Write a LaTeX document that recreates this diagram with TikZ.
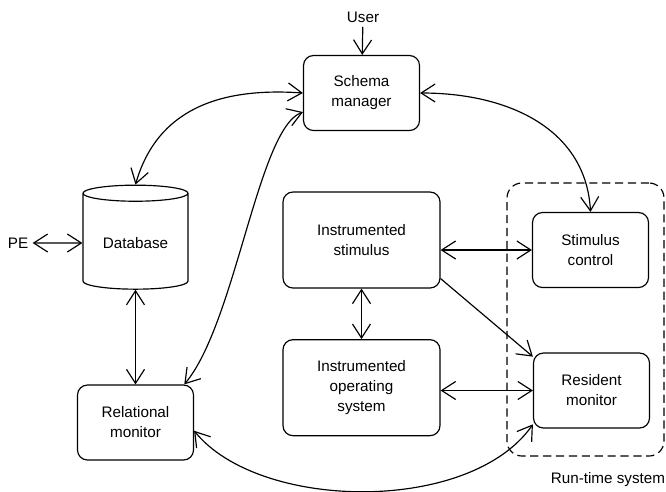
\documentclass[tikz,border=0pt]{standalone}
\usepackage{fontspec}
\setmainfont{Liberation Sans}
\usepackage{tikz}
\usetikzlibrary{arrows.meta,shapes.geometric}

\begin{document}
\begin{tikzpicture}[<->,>={Straight Barb[length=4.2mm,width=5.4mm]},line width=1pt,
        x=0.03cm,y=-0.03cm,font=\fontsize{13}{17}\selectfont,
        blk/.style={draw,rounded corners=0.3cm,align=center,minimum width=3.48cm,minimum height=2.25cm},
        big/.style={blk,minimum width=4.71cm,minimum height=2.88cm}]

  \useasboundingbox (0,0) rectangle (666,491);

  \node[blk] (schema) at (361.5,93) {Schema\\manager};
  \node (user) at (363,17) {User};
  \node[draw,cylinder,shape border rotate=90,aspect=0.22,
        minimum width=3.15cm,minimum height=3.12cm] (db) at (135.5,243) {Database};
  \node (pe) at (18,243) {PE};
  \node[blk] (relmon) at (135.5,422.5) {Relational\\monitor};
  \node[big] (inststim) at (361.5,240) {Instrumented\\stimulus};
  \node[big] (instos) [below of=inststim,node distance=4.43cm] {Instrumented\\operating\\system};
  \node[blk] (stimctl) at (590.5,250) {Stimulus\\control};
  \node[blk] (resmon) at (591.5,390.5) {Resident\\monitor};

  % run-time part
  \node[draw,dash pattern=on 7pt off 4pt,rounded corners=0.45cm,
        minimum width=4.71cm,minimum height=8.19cm] (rts) at (585.5,319.5) {};
  \node (rtslabel) at (608,480) {Run-time system};

  \path (user) edge[->] (schema)
        (pe) edge (db)
        (db) edge (relmon)
        (inststim) edge (instos)
        (stimctl.west -| inststim.east) edge (stimctl.west)
        (resmon.west -| instos.east) edge (resmon.west)
        (inststim.-26) edge[->] (resmon.150);

  \path (schema.west) edge[out=176,in=74,out distance=2.5cm,in distance=2.35cm] (db.north)
        (schema.198) edge[out=200,in=50,out distance=1.43cm,in distance=2.4cm] (relmon.38)
        (schema.east) edge[out=0,in=93,out distance=2.7cm,in distance=2.46cm] (stimctl.north)
        (relmon.-8) edge[out=-51,in=235,out distance=3.1cm,in distance=3.3cm] (resmon.210);
\end{tikzpicture}
\end{document}
